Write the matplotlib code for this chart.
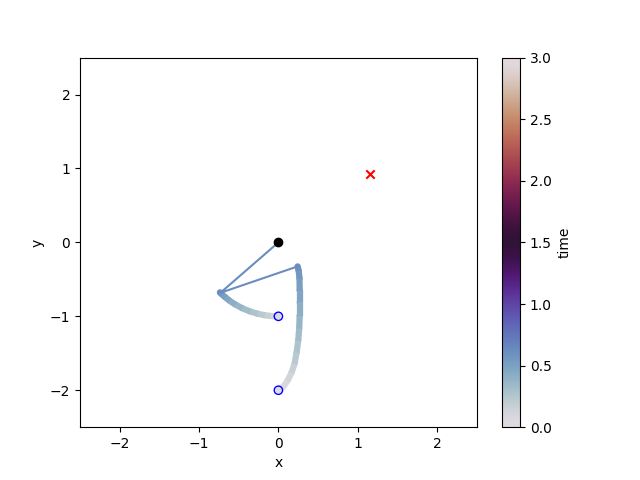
import matplotlib
matplotlib.use("Agg")
from matplotlib import pyplot as plt
from matplotlib.collections import LineCollection
from matplotlib.colors import Normalize
import numpy as np

# time stamps of the stored states
t = [0.0, 0.05, 0.10, 0.15, 0.20, 0.25, 0.30, 0.34, 0.39, 0.44, 0.49, 0.54, 0.58, 0.62]

# first mass
x1 = [0.0, -0.017, -0.052, -0.105, -0.174, -0.259, -0.358, -0.454, -0.545, -0.616, -0.669, -0.707, -0.737, -0.731]
y1 = [-1.0, -1.0, -0.999, -0.995, -0.985, -0.966, -0.934, -0.891, -0.839, -0.788, -0.743, -0.707, -0.676, -0.682]

# second mass
x2 = [0.0, 0.064, 0.115, 0.166, 0.204, 0.229, 0.250, 0.262, 0.268, 0.268, 0.268, 0.266, 0.255, 0.242]
y2 = [-2.0, -1.951, -1.870, -1.762, -1.640, -1.491, -1.328, -1.165, -0.989, -0.813, -0.650, -0.488, -0.379, -0.325]

target = (1.16, 0.92)

norm = Normalize(vmin=0, vmax=3)
cmap = plt.get_cmap("twilight")

fig, ax = plt.subplots(figsize=(6.4, 4.8), dpi=100)


def trail(xs, ys):
    pts = np.column_stack([xs, ys]).reshape(-1, 1, 2)
    segs = np.concatenate([pts[:-1], pts[1:]], axis=1)
    tm = (np.array(t[:-1]) + np.array(t[1:])) / 2
    lc = LineCollection(segs, cmap=cmap, norm=norm, linewidths=4.5, capstyle="butt")
    lc.set_array(tm)
    ax.add_collection(lc)
    # dots at the stored states close the joints
    ax.scatter(xs, ys, c=t, cmap=cmap, norm=norm, s=20, linewidths=0)
    return lc


lc = trail(x1, y1)
trail(x2, y2)

# final configuration
end_color = cmap(norm(t[-1]))
ax.plot([0, x1[-1], x2[-1]], [0, y1[-1], y2[-1]], color=end_color, lw=1.5, zorder=3)

# start positions, pivot and target
ax.scatter([x1[0], x2[0]], [y1[0], y2[0]], facecolors="none", edgecolors="blue", zorder=4)
ax.scatter([0], [0], color="black", zorder=4)
ax.scatter([target[0]], [target[1]], color="red", marker="x", zorder=4)

ax.set_xlim(-2.5, 2.5)
ax.set_ylim(-2.5, 2.5)
ax.set_xlabel("x")
ax.set_ylabel("y")

cb = fig.colorbar(lc, ax=ax)
cb.set_label("time")

fig.savefig("out.png")
